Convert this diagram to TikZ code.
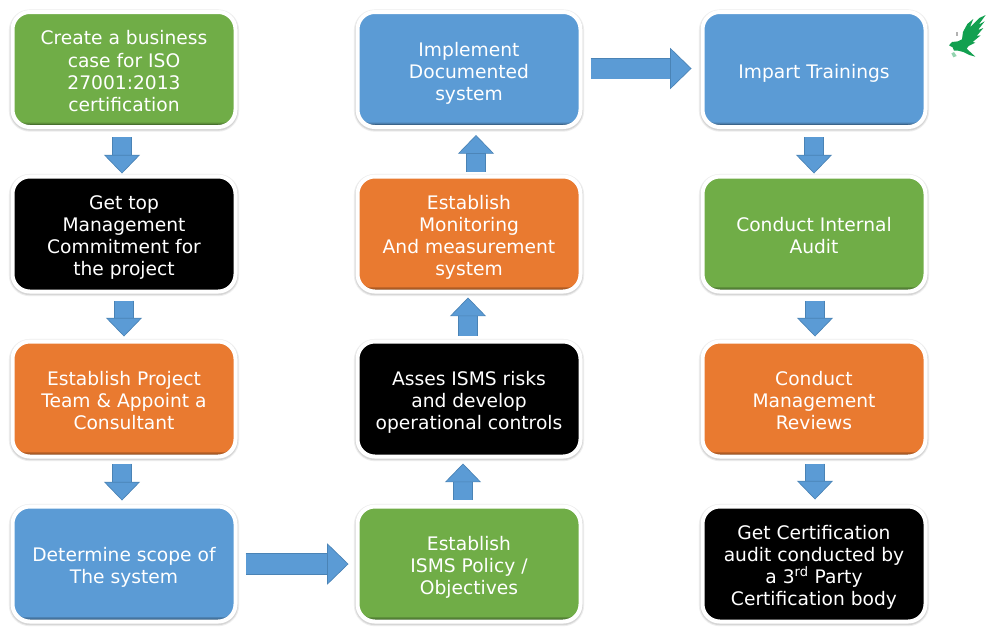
\documentclass[tikz,border=0pt]{standalone}
\usepackage{fontspec}
\setmainfont{DejaVu Sans}
\usetikzlibrary{arrows.meta}
\definecolor{cgreen}{HTML}{70AD47}
\definecolor{cblue}{HTML}{5B9BD5}
\definecolor{corange}{HTML}{E97A30}
\definecolor{cblack}{HTML}{000000}
\definecolor{cedge}{HTML}{4A83B5}
\definecolor{ceagle}{HTML}{12A050}
\newcommand{\tp}{\rule{0pt}{17pt}}
\newcommand{\bt}{\rule[-4pt]{0pt}{4pt}}
\tikzset{
  x=0.75pt,y=-0.75pt,
  boxst/.style={
    rounded corners=13pt, draw=white, line width=3pt, fill=#1, text=white,
    minimum width=167.25pt, minimum height=86.25pt, outer sep=0pt, inner sep=0pt,
    align=center, font=\fontsize{14}{16.6}\selectfont,
    preaction={draw=black!7, line width=5.4pt, transform canvas={yshift=-0.8pt}},
    preaction={draw=black!16, line width=3.8pt, transform canvas={yshift=-0.8pt}},
    path picture={
      \fill[#1!42!black] (path picture bounding box.south west) rectangle (path picture bounding box.north east);
      \fill[#1!62!black, rounded corners=10pt] ([yshift=1.2pt]path picture bounding box.south west) rectangle ([yshift=4pt]path picture bounding box.north east);
      \fill[#1!82!black, rounded corners=10pt] ([yshift=2.2pt]path picture bounding box.south west) rectangle ([yshift=4pt]path picture bounding box.north east);
      \fill[#1, rounded corners=10pt] ([yshift=3.2pt]path picture bounding box.south west) rectangle ([yshift=4pt]path picture bounding box.north east);
    }
  },
  vflow/.style={
    draw=cblue, line width=13.5pt,
    -{Triangle[width=27pt,length=14pt,fill=cblue,color=cedge,line width=0.5pt]},
    preaction={draw=cedge, line width=14.3pt, shorten >=13pt, arrows=-},
    shorten >=0pt
  },
  hflow/.style={
    draw=cblue, line width=15pt,
    -{Triangle[width=31pt,length=16pt,fill=cblue,color=cedge,line width=0.5pt]},
    preaction={draw=cedge, line width=15.8pt, shorten >=15pt, arrows=-}
  },
}
\begin{document}
\begin{tikzpicture}
\useasboundingbox (0,0) rectangle (1004,636);
\fill[white] (0,0) rectangle (1004,636);

\node[boxst=cgreen] (a1) at (124,69.5) {\tp Create a business\\case for ISO\\27001:2013\\certification\bt};
\node[boxst=cblack] (a2) at (124,234) {\tp Get top\\Management\\Commitment for\\the project\bt};
\node[boxst=corange] (a3) at (124,399) {\tp Establish Project\\Team \& Appoint a\\Consultant\bt};
\node[boxst=cblue] (a4) at (124,564) {\tp Determine scope of\\The system\bt};

\node[boxst=cblue] (b1) at (469,69.5) {\tp Implement\\Documented\\system\bt};
\node[boxst=corange] (b2) at (469,234) {\tp Establish\\Monitoring\\And measurement\\system\bt};
\node[boxst=cblack] (b3) at (469,399) {\tp Asses ISMS risks\\and develop\\operational controls\bt};
\node[boxst=cgreen] (b4) at (469,564) {\tp Establish\\ISMS Policy /\\Objectives\bt};

\node[boxst=cblue] (c1) at (814,69.5) {\tp Impart Trainings\bt};
\node[boxst=cgreen] (c2) at (814,234) {\tp Conduct Internal\\Audit\bt};
\node[boxst=corange] (c3) at (814,399) {\tp Conduct\\Management\\Reviews\bt};
\node[boxst=cblack] (c4) at (814,564) {\tp Get Certification\\audit conducted by\\a 3\textsuperscript{rd} Party\\Certification body\bt};

% left column
\draw[vflow] ([shift={(-2,10)}]a1.south) -- ([shift={(-2,-3)}]a2.north);
\draw[vflow] ([shift={(0,9)}]a2.south) -- ([shift={(0,-5)}]a3.north);
\draw[vflow] ([shift={(-2,7)}]a3.south) -- ([shift={(-2,-6)}]a4.north);
% bottom horizontal
\draw[hflow] ([shift={(10,0)}]a4.east) -- ([shift={(-9,0)}]b4.west);
% middle column (upwards)
\draw[vflow] ([shift={(-6,-7)}]b4.north) -- ([shift={(-6,7)}]b3.south);
\draw[vflow] ([shift={(-1,-6)}]b3.north) -- ([shift={(-1,6)}]b2.south);
\draw[vflow] ([shift={(7,-5)}]b2.north) -- ([shift={(7,8)}]b1.south);
% top horizontal
\draw[hflow] ([shift={(10,-1)}]b1.east) -- ([shift={(-11,-1)}]c1.west);
% right column
\draw[vflow] ([shift={(0,10)}]c1.south) -- ([shift={(0,-3)}]c2.north);
\draw[vflow] ([shift={(1,9)}]c2.south) -- ([shift={(1,-5)}]c3.north);
\draw[vflow] ([shift={(1,7)}]c3.south) -- ([shift={(1,-7)}]c4.north);

% eagle logo
\begin{scope}[shift={(930,0)},x=0.25pt,y=-0.25pt]
\fill[ceagle] (57,136) -- (66,126) -- (84,124) -- (96,118) -- (99,96) -- (112,72) -- (130,57)
  -- (120,82) -- (148,54) -- (167,45) -- (146,74) -- (164,64) -- (144,90) -- (160,84)
  -- (140,108) -- (152,106) -- (128,126) -- (136,128) -- (116,138) -- (110,146)
  -- (136,170) -- (118,165) -- (100,156) -- (84,152) -- (72,152) -- (68,142) -- cycle;
\fill[ceagle!45] (64,160) -- (72,156) -- (80,168) -- (70,172) -- cycle;
\fill[black!30] (78,95) rectangle (84,108);
\end{scope}
\end{tikzpicture}
\end{document}
